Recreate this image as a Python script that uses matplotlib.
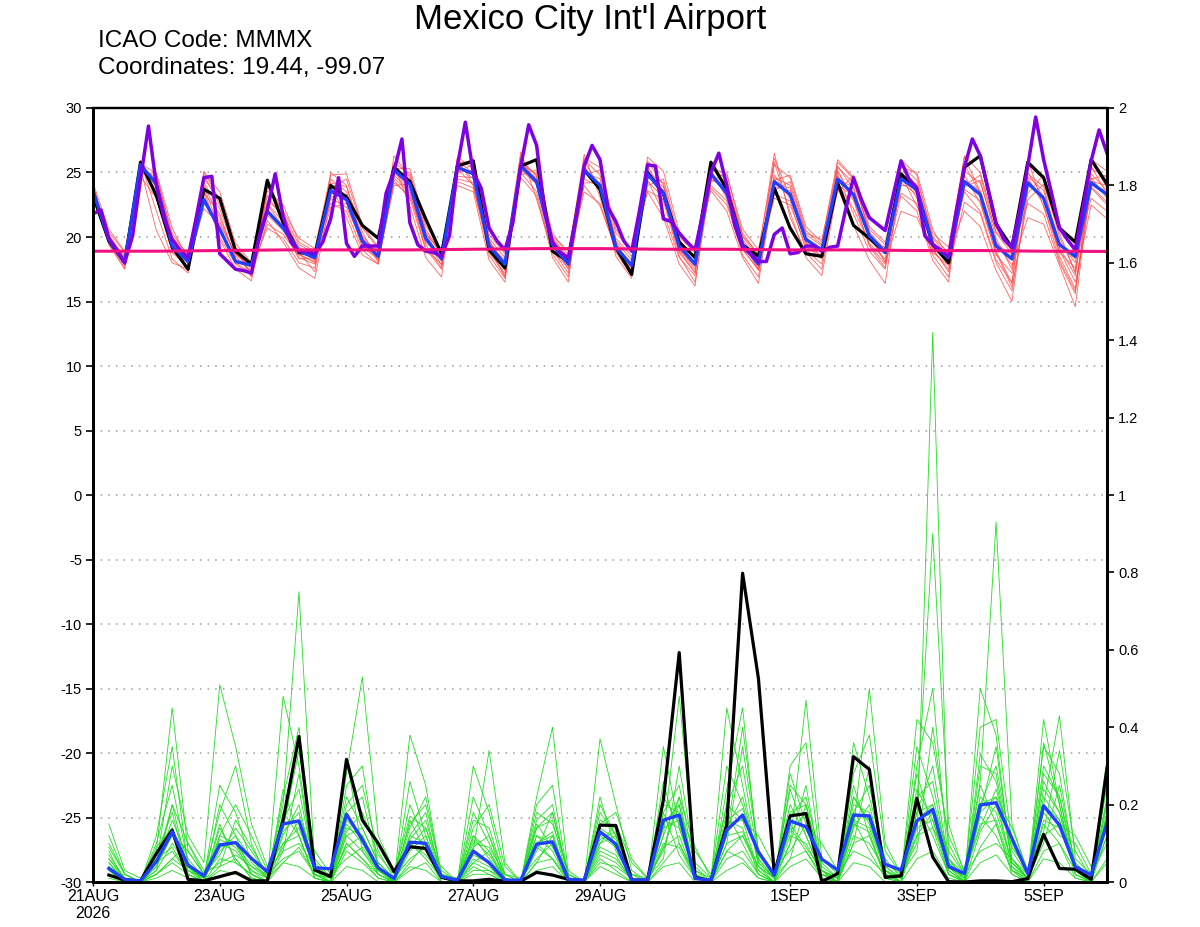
import numpy as np
import matplotlib
matplotlib.use("Agg")
import matplotlib.pyplot as plt

plt.rcParams['font.family'] = ['Liberation Sans', 'DejaVu Sans']

# time axis: days after 21AUG 2026 00Z
tick_days = [0, 2, 4, 6, 8, 11, 13, 15]
tick_labels = ["21AUG\n2026", "23AUG", "25AUG", "27AUG", "29AUG", "1SEP", "3SEP", "5SEP"]

# 6-hourly temperature (deg C), 65 steps
temp_control = [23.2, 19.7, 18.0, 25.8, 23.2, 19.2, 17.5, 23.7, 23.0, 18.9, 17.9, 24.4, 21.1, 18.8, 18.6, 24.0,
                23.1, 20.9, 19.9, 25.4, 24.3, 21.4, 18.7, 25.5, 25.9, 19.0, 17.6, 25.5, 26.0, 18.9, 18.1, 25.2,
                23.7, 19.2, 17.1, 25.0, 23.4, 19.6, 18.4, 25.8, 23.7, 19.4, 18.5, 23.8, 20.7, 18.7, 18.5, 24.2,
                20.9, 19.9, 18.8, 24.9, 23.6, 19.4, 18.0, 25.4, 26.3, 21.0, 19.2, 25.8, 24.6, 20.7, 19.6, 26.0,
                24.1]
temp_mean = [23.6, 19.8, 18.0, 25.6, 24.1, 19.3, 18.1, 22.9, 20.6, 18.1, 17.8, 22.0, 20.7, 18.9, 18.4, 23.6,
             22.9, 19.7, 18.5, 25.2, 24.1, 19.9, 18.3, 25.4, 24.9, 19.3, 17.9, 25.5, 24.3, 19.4, 17.9, 25.2,
             24.0, 19.2, 17.8, 24.9, 23.4, 19.3, 17.9, 24.9, 23.4, 19.4, 17.9, 24.3, 23.3, 19.8, 19.0, 24.5,
             23.3, 20.1, 18.8, 24.5, 23.7, 19.4, 18.4, 24.3, 23.3, 19.3, 18.3, 24.2, 23.0, 19.4, 18.5, 24.2,
             23.3]

# 3-hourly deterministic temperature, 129 steps
temp_det = [21.8, 22.1, 19.9, 19.0, 18.0, 20.1, 24.5, 28.6, 24.0, 21.4, 19.8, 19.0, 18.4, 21.4, 24.6, 24.7,
            18.7, 18.1, 17.5, 17.4, 17.2, 20.1, 22.1, 24.9, 21.6, 19.6, 18.9, 18.9, 18.7, 19.6, 21.4, 24.6,
            19.5, 18.5, 19.3, 19.3, 19.3, 23.4, 25.1, 27.6, 21.1, 19.4, 18.9, 18.8, 18.5, 20.1, 25.5, 28.9,
            25.0, 23.8, 20.7, 19.7, 19.0, 21.1, 25.5, 28.7, 27.1, 22.1, 19.6, 18.8, 18.4, 21.6, 25.5, 27.1,
            26.0, 22.3, 21.2, 19.7, 18.9, 22.1, 25.6, 25.5, 21.4, 21.2, 20.3, 19.6, 19.0, 21.9, 25.0, 26.5,
            24.0, 20.9, 19.2, 18.7, 18.1, 18.1, 20.2, 20.7, 18.7, 18.8, 19.3, 19.3, 18.9, 19.2, 19.3, 22.1,
            24.6, 22.9, 21.5, 21.0, 20.5, 23.2, 25.9, 24.5, 23.8, 20.1, 19.4, 19.0, 18.5, 22.1, 25.4, 27.6,
            26.3, 23.7, 21.1, 19.8, 19.2, 22.1, 25.5, 29.3, 26.0, 23.4, 20.7, 19.8, 19.0, 22.4, 25.9, 28.3,
            26.5]

# daily climatology line
clim_days = list(range(17))
clim_temp = [18.9, 18.9, 18.95, 19.0, 19.0, 19.0, 19.05, 19.1, 19.1, 19.05, 19.05, 19.0, 19.0, 18.95, 18.95, 18.9, 18.88]

# ensemble temperature members (6-hourly, 65 steps)
temp_members = [
    [23.8, 20.2, 18.3, 25.4, 24.5, 19.6, 17.9, 24.0, 21.5, 18.5, 17.3, 21.0, 20.2, 18.6, 18.1, 24.5,
     23.5, 20.1, 18.7, 25.8, 24.8, 20.3, 18.1, 26.2, 25.3, 19.8, 17.4, 26.3, 24.0, 19.0, 17.2, 25.0,
     24.5, 19.7, 18.2, 25.9, 24.0, 19.8, 18.3, 23.8, 22.5, 19.0, 17.5, 25.6, 24.6, 20.5, 19.4, 25.0,
     23.0, 19.3, 17.6, 26.0, 24.8, 19.9, 18.5, 23.5, 22.0, 18.2, 16.5, 25.6, 24.5, 20.0, 17.3, 23.8, 22.5],
    [23.2, 19.5, 17.6, 25.8, 22.0, 18.3, 17.2, 25.0, 23.5, 19.5, 18.0, 22.8, 21.8, 19.4, 18.8, 22.6,
     22.0, 19.0, 17.9, 24.6, 23.4, 19.1, 17.5, 26.1, 24.0, 18.6, 16.8, 24.8, 25.2, 20.3, 18.6, 26.4,
     23.1, 18.8, 17.0, 24.0, 24.5, 20.0, 18.8, 25.7, 24.0, 20.3, 18.6, 23.0, 22.5, 19.3, 18.3, 25.4,
     24.2, 20.6, 19.4, 23.4, 22.6, 18.6, 16.9, 25.1, 24.2, 20.4, 19.0, 22.6, 21.8, 18.0, 15.6, 25.3, 24.6],
    [24.0, 19.9, 18.4, 25.2, 24.7, 20.3, 18.5, 23.7, 19.8, 17.5, 16.6, 22.6, 21.2, 19.0, 18.2, 23.8,
     24.5, 20.7, 19.1, 24.4, 23.0, 19.0, 17.9, 24.7, 24.6, 19.4, 18.2, 25.0, 23.5, 18.7, 16.9, 24.5,
     23.9, 19.2, 17.4, 25.3, 22.8, 18.5, 16.5, 24.3, 25.0, 20.1, 18.7, 26.5, 21.5, 18.8, 17.5, 24.1,
     22.2, 19.5, 18.3, 25.6, 24.4, 20.3, 19.2, 26.2, 23.5, 18.9, 16.4, 24.9, 23.9, 19.2, 17.0, 26.0, 25.1],
    [23.5, 20.4, 18.8, 25.6, 23.5, 19.0, 18.0, 22.2, 21.0, 18.7, 17.6, 20.7, 19.9, 18.0, 17.6, 25.0,
     24.0, 19.5, 18.2, 25.5, 24.4, 20.2, 18.9, 25.1, 25.6, 19.9, 18.4, 26.6, 22.9, 18.9, 17.6, 24.8,
     25.2, 20.3, 19.0, 24.4, 21.9, 18.4, 17.0, 25.8, 23.7, 19.5, 17.5, 23.6, 24.3, 20.3, 19.8, 25.5,
     23.7, 20.1, 18.0, 22.0, 21.5, 18.8, 17.8, 24.0, 24.8, 20.3, 18.7, 26.0, 22.3, 19.0, 16.5, 22.5, 21.4],
    [23.6, 19.7, 17.8, 25.1, 24.2, 19.3, 18.3, 23.3, 20.0, 17.9, 17.0, 23.6, 22.5, 19.6, 18.9, 24.0,
     21.5, 18.6, 17.9, 24.9, 25.0, 20.6, 18.7, 24.3, 23.8, 19.3, 17.7, 25.9, 24.8, 19.9, 18.3, 23.5,
     22.6, 18.9, 17.1, 24.6, 23.9, 19.4, 17.8, 24.0, 22.8, 18.6, 16.9, 24.8, 23.0, 19.9, 18.8, 23.5,
     24.8, 20.8, 19.6, 25.0, 23.0, 19.0, 17.5, 22.7, 21.8, 18.0, 15.8, 23.4, 24.8, 20.6, 18.8, 26.0, 23.8],
    [23.9, 20.0, 18.1, 24.9, 25.0, 20.7, 18.2, 23.4, 21.8, 18.3, 17.4, 22.5, 20.8, 18.7, 18.0, 22.3,
     22.6, 19.3, 18.6, 25.0, 23.8, 19.6, 18.4, 25.6, 24.5, 19.0, 17.0, 25.2, 24.1, 19.6, 18.0, 26.0,
     24.8, 19.9, 18.5, 23.6, 22.9, 18.9, 17.3, 24.4, 23.9, 20.0, 18.5, 23.9, 23.6, 20.0, 18.9, 24.8,
     21.8, 18.9, 17.5, 24.0, 23.9, 19.6, 18.6, 26.3, 25.0, 20.7, 18.9, 24.7, 23.6, 19.6, 18.0, 24.9, 23.6],
    [23.3, 19.6, 17.9, 25.3, 20.5, 18.0, 17.5, 24.5, 23.0, 19.2, 17.9, 23.2, 21.4, 19.2, 18.6, 23.4,
     23.0, 19.8, 18.4, 26.3, 24.6, 20.4, 18.6, 25.0, 25.2, 19.6, 18.0, 25.4, 24.6, 20.0, 18.4, 25.5,
     23.5, 19.4, 17.9, 25.0, 24.2, 19.6, 18.4, 25.2, 23.0, 19.6, 18.1, 24.6, 24.0, 20.2, 19.3, 24.0,
     23.2, 20.0, 18.7, 24.8, 22.4, 19.5, 18.0, 24.4, 23.6, 19.5, 18.6, 25.0, 23.1, 19.4, 18.3, 23.0, 22.0],
    [23.5, 19.9, 18.2, 25.5, 24.0, 19.1, 17.7, 24.2, 22.2, 18.8, 17.7, 21.7, 20.5, 18.4, 17.9, 23.1,
     23.3, 19.9, 18.8, 24.8, 23.6, 19.4, 17.6, 24.5, 24.2, 18.8, 17.2, 26.0, 24.7, 19.5, 17.5, 24.2,
     24.2, 19.6, 17.6, 24.8, 23.6, 19.0, 17.7, 25.3, 24.5, 19.8, 18.2, 24.1, 23.8, 19.6, 18.5, 25.8,
     24.5, 20.4, 19.0, 24.2, 23.3, 19.3, 18.2, 23.7, 22.8, 18.6, 17.2, 24.4, 22.9, 18.8, 17.6, 24.6, 23.0],
    [24.2, 20.6, 18.9, 24.7, 23.0, 18.8, 17.6, 25.1, 22.8, 19.0, 17.1, 24.0, 22.0, 19.9, 19.1, 24.8,
     24.9, 20.9, 19.2, 25.6, 22.4, 18.4, 16.9, 25.8, 25.8, 20.2, 18.7, 24.6, 23.2, 18.4, 16.5, 26.1,
     25.4, 20.6, 18.9, 23.5, 21.5, 17.9, 16.2, 25.5, 24.8, 20.6, 19.0, 25.8, 21.9, 18.4, 17.0, 23.8,
     20.9, 18.2, 16.4, 24.6, 24.1, 20.0, 18.8, 22.0, 20.8, 17.4, 15.0, 24.0, 23.2, 18.5, 16.0, 24.3, 24.0],
    [23.1, 19.4, 17.5, 25.7, 24.9, 20.0, 18.7, 24.8, 22.5, 19.1, 16.9, 21.3, 19.6, 17.6, 16.8, 23.0,
     22.3, 19.6, 18.9, 25.3, 25.3, 20.9, 19.0, 24.0, 23.5, 18.2, 16.5, 25.7, 24.4, 20.1, 18.9, 25.9,
     23.8, 18.5, 16.8, 26.2, 25.1, 20.4, 19.1, 23.6, 22.0, 18.4, 16.4, 24.4, 24.8, 20.8, 19.6, 26.0,
     24.6, 20.2, 18.1, 23.2, 22.0, 18.2, 16.5, 25.6, 23.4, 19.6, 17.8, 21.5, 21.0, 17.8, 14.6, 24.5, 24.8],
    [23.7, 20.0, 18.5, 25.9, 23.8, 19.8, 18.2, 22.6, 21.2, 18.6, 17.8, 23.9, 21.9, 18.8, 17.3, 24.2,
     23.9, 20.4, 18.0, 24.2, 23.2, 19.8, 18.2, 26.0, 24.9, 19.7, 17.9, 25.6, 24.9, 19.3, 17.8, 24.0,
     22.4, 19.1, 17.6, 25.5, 23.3, 19.1, 17.5, 24.6, 23.5, 19.3, 17.7, 26.1, 23.1, 19.5, 18.4, 24.4,
     23.9, 19.8, 19.2, 25.4, 25.0, 20.6, 18.3, 24.8, 22.6, 18.8, 16.1, 22.9, 24.1, 20.3, 17.2, 25.5, 23.3],
    [23.4, 19.8, 18.0, 25.3, 24.4, 19.9, 17.4, 23.9, 20.6, 18.0, 17.2, 22.0, 20.6, 18.3, 18.4, 23.6,
     22.9, 19.2, 18.3, 24.0, 24.1, 20.0, 17.8, 25.3, 24.0, 19.2, 16.9, 25.3, 24.2, 19.8, 18.1, 25.2,
     24.0, 19.3, 17.3, 24.3, 23.1, 18.8, 17.2, 24.9, 23.2, 19.1, 17.4, 23.3, 22.8, 19.0, 17.9, 25.2,
     22.8, 19.4, 17.9, 24.9, 23.5, 19.1, 17.3, 23.9, 24.4, 19.9, 17.5, 24.6, 22.5, 18.2, 15.8, 23.9, 22.7],
]

# 6-hourly precipitation, steps 1..64
precip_control = [0.018, 0.005, 0.003, 0.074, 0.134, 0.007, 0.003, 0.014,
                  0.025, 0.003, 0.003, 0.160, 0.376, 0.031, 0.014, 0.317,
                  0.160, 0.100, 0.027, 0.091, 0.087, 0.012, 0.003, 0.003,
                  0.007, 0.002, 0.002, 0.025, 0.018, 0.007, 0.003, 0.147,
                  0.146, 0.005, 0.005, 0.212, 0.593, 0.012, 0.003, 0.147,
                  0.798, 0.526, 0.022, 0.171, 0.177, 0.001, 0.022, 0.324,
                  0.291, 0.012, 0.016, 0.216, 0.065, 0.001, 0.000, 0.003,
                  0.003, 0.001, 0.009, 0.123, 0.035, 0.033, 0.007, 0.294]
precip_mean = [0.035, 0.007, 0.003, 0.053, 0.130, 0.044, 0.016, 0.096,
               0.102, 0.061, 0.027, 0.150, 0.158, 0.037, 0.034, 0.175,
               0.109, 0.037, 0.009, 0.103, 0.100, 0.014, 0.005, 0.080,
               0.050, 0.005, 0.005, 0.098, 0.104, 0.007, 0.005, 0.130,
               0.098, 0.005, 0.005, 0.160, 0.173, 0.009, 0.005, 0.134,
               0.173, 0.078, 0.018, 0.158, 0.143, 0.059, 0.031, 0.173,
               0.171, 0.046, 0.031, 0.158, 0.188, 0.040, 0.022, 0.199,
               0.205, 0.113, 0.022, 0.197, 0.147, 0.040, 0.018, 0.152]

precip_members = [
    [.05, .01, .00, .04, .16, .06, .01, .10, .08, .03, .01, .12, .20, .02, .01, .15,
     .10, .03, .00, .08, .12, .01, .00, .06, .04, .00, .00, .10, .13, .00, .00, .12,
     .09, .01, .00, .15, .20, .02, .00, .14, .22, .05, .01, .12, .10, .02, .01, .15,
     .13, .01, .02, .10, 1.42, .06, .00, .13, .20, .05, .01, .15, .10, .03, .01, .12],
    [.12, .02, .00, .08, .45, .08, .02, .18, .30, .10, .01, .20, .75, .04, .01, .22,
     .14, .05, .01, .15, .20, .02, .00, .11, .07, .01, .00, .14, .18, .01, .00, .20,
     .12, .02, .00, .18, .25, .03, .01, .16, .19, .07, .02, .17, .22, .05, .01, .20,
     .18, .04, .01, .16, .20, .08, .02, .26, .93, .15, .02, .30, .22, .05, .01, .18],
    [.02, .00, .00, .05, .30, .12, .05, .51, .35, .15, .04, .10, .14, .03, .02, .28,
     .53, .12, .03, .10, .07, .02, .01, .09, .12, .02, .01, .06, .10, .02, .00, .08,
     .06, .01, .00, .09, .12, .01, .00, .10, .35, .08, .02, .13, .18, .03, .01, .14,
     .50, .10, .02, .24, .16, .04, .01, .17, .12, .03, .01, .20, .43, .06, .02, .10],
    [.08, .00, .00, .03, .10, .04, .00, .06, .05, .02, .00, .48, .30, .02, .00, .10,
     .06, .02, .00, .38, .25, .01, .00, .08, .34, .05, .00, .05, .06, .00, .00, .06,
     .03, .00, .00, .12, .48, .04, .00, .45, .25, .04, .01, .10, .47, .06, .02, .08,
     .06, .02, .01, .42, .36, .12, .03, .20, .30, .08, .02, .26, .18, .04, .01, .25],
    [.15, .03, .01, .05, .08, .02, .00, .20, .12, .06, .01, .18, .12, .01, .00, .08,
     .05, .01, .00, .12, .18, .00, .00, .30, .18, .02, .00, .22, .40, .02, .00, .37,
     .20, .03, .00, .10, .09, .01, .00, .08, .12, .03, .00, .30, .36, .03, .00, .10,
     .12, .01, .00, .18, .30, .05, .01, .40, .42, .10, .02, .35, .28, .03, .00, .30],
    [.04, .01, .00, .02, .06, .10, .03, .04, .16, .09, .02, .06, .08, .02, .00, .20,
     .25, .08, .01, .06, .09, .04, .00, .05, .03, .01, .00, .18, .15, .03, .00, .10,
     .15, .05, .01, .20, .18, .08, .02, .20, .16, .12, .04, .08, .15, .10, .03, .18,
     .25, .05, .02, .12, .14, .06, .02, .08, .10, .06, .02, .12, .15, .12, .04, .16],
    [.03, .00, .00, .01, .03, .01, .00, .03, .02, .01, .00, .05, .04, .01, .00, .04,
     .03, .00, .00, .03, .05, .00, .00, .02, .02, .00, .00, .03, .04, .00, .00, .04,
     .02, .00, .00, .04, .05, .00, .00, .03, .05, .01, .00, .04, .06, .01, .00, .05,
     .04, .00, .00, .06, .08, .01, .00, .05, .07, .02, .00, .06, .05, .01, .00, .05],
    [.06, .01, .00, .06, .12, .03, .01, .09, .10, .04, .02, .14, .34, .06, .01, .13,
     .18, .07, .02, .17, .14, .03, .00, .12, .06, .01, .00, .15, .09, .01, .00, .14,
     .11, .02, .01, .06, .30, .05, .01, .12, .40, .08, .02, .20, .12, .02, .00, .36,
     .22, .06, .01, .20, .90, .15, .02, .14, .24, .09, .03, .13, .34, .08, .01, .21],
    [.02, .00, .00, .10, .25, .05, .00, .12, .20, .12, .03, .08, .10, .04, .01, .32,
     .08, .03, .00, .10, .06, .01, .00, .18, .10, .01, .00, .08, .18, .02, .00, .05,
     .04, .01, .00, .35, .14, .02, .00, .18, .10, .02, .00, .06, .08, .02, .00, .12,
     .10, .03, .01, .28, .14, .02, .00, .33, .26, .06, .01, .42, .20, .02, .00, .15],
    [.10, .02, .00, .03, .20, .10, .02, .07, .14, .08, .02, .09, .16, .08, .02, .06,
     .09, .03, .01, .20, .10, .02, .00, .14, .20, .04, .00, .10, .06, .01, .00, .15,
     .18, .06, .01, .08, .22, .09, .01, .30, .20, .06, .01, .15, .09, .03, .01, .22,
     .15, .04, .01, .35, .22, .06, .01, .18, .22, .14, .03, .18, .12, .10, .02, .14],
    [.00, .00, .00, .02, .05, .02, .00, .15, .05, .02, .00, .24, .12, .01, .00, .16,
     .12, .02, .00, .04, .03, .00, .00, .04, .02, .00, .00, .05, .12, .01, .00, .22,
     .08, .01, .00, .26, .10, .02, .00, .08, .06, .01, .00, .25, .20, .04, .01, .28,
     .38, .08, .02, .08, .40, .10, .02, .15, .16, .04, .01, .10, .25, .04, .01, .32],
    [.07, .01, .00, .09, .14, .04, .00, .11, .09, .03, .00, .13, .18, .04, .01, .12,
     .14, .05, .01, .11, .16, .02, .00, .10, .09, .02, .00, .12, .10, .01, .00, .13,
     .10, .02, .00, .14, .16, .03, .00, .12, .13, .04, .01, .16, .14, .03, .00, .16,
     .14, .03, .01, .18, .20, .05, .01, .22, .18, .05, .01, .16, .14, .03, .00, .17],
    [.04, .01, .00, .12, .35, .04, .01, .08, .12, .02, .00, .16, .24, .03, .00, .18,
     .22, .04, .00, .09, .14, .01, .00, .07, .05, .00, .00, .16, .20, .01, .00, .09,
     .07, .00, .00, .12, .22, .01, .00, .20, .30, .06, .01, .24, .12, .02, .00, .14,
     .20, .03, .00, .22, .26, .04, .00, .18, .35, .05, .01, .24, .18, .02, .00, .20],
    [.01, .00, .00, .06, .09, .02, .00, .04, .06, .01, .00, .08, .28, .02, .00, .25,
     .30, .04, .00, .05, .10, .01, .00, .05, .08, .00, .00, .09, .06, .00, .00, .18,
     .12, .01, .00, .05, .10, .01, .00, .24, .45, .05, .01, .06, .20, .01, .00, .10,
     .30, .02, .00, .14, .16, .02, .00, .50, .38, .03, .00, .08, .10, .01, .00, .06],
    [.09, .02, .00, .02, .06, .03, .01, .25, .18, .05, .01, .05, .09, .02, .00, .12,
     .08, .02, .00, .26, .12, .01, .00, .03, .03, .00, .00, .20, .25, .01, .00, .07,
     .05, .01, .00, .18, .07, .01, .00, .06, .08, .02, .00, .28, .15, .03, .00, .25,
     .12, .02, .00, .30, .50, .04, .00, .09, .15, .02, .00, .28, .22, .03, .00, .12],
    [.03, .00, .00, .04, .12, .08, .02, .05, .07, .04, .01, .22, .40, .05, .01, .09,
     .12, .04, .00, .14, .22, .02, .00, .16, .14, .01, .00, .12, .08, .00, .00, .11,
     .13, .01, .00, .22, .15, .02, .00, .10, .12, .04, .00, .10, .25, .02, .00, .22,
     .16, .03, .00, .12, .18, .03, .00, .30, .28, .06, .01, .22, .16, .04, .00, .22],
    [.06, .01, .00, .05, .20, .03, .00, .14, .06, .01, .00, .10, .12, .01, .00, .10,
     .06, .01, .00, .16, .08, .00, .00, .22, .12, .00, .00, .14, .16, .00, .00, .16,
     .14, .00, .00, .09, .20, .01, .00, .16, .14, .02, .00, .14, .08, .01, .00, .16,
     .08, .01, .00, .20, .12, .02, .00, .25, .15, .03, .00, .36, .20, .02, .00, .26],
    [.05, .00, .00, .07, .18, .02, .00, .12, .10, .02, .00, .15, .16, .02, .00, .14,
     .12, .02, .00, .12, .10, .01, .00, .12, .08, .01, .00, .10, .12, .01, .00, .10,
     .12, .01, .00, .16, .14, .02, .00, .15, .16, .03, .00, .18, .20, .03, .00, .18,
     .16, .02, .00, .16, .18, .03, .00, .20, .22, .04, .00, .20, .16, .03, .00, .18],
]

t6 = np.arange(len(temp_mean)) * 0.25
t3 = np.arange(len(temp_det)) * 0.125
tp = np.arange(1, len(precip_mean) + 1) * 0.25

fig = plt.figure(figsize=(12, 9.27), dpi=100)
ax = fig.add_axes([0.0775, 0.0485, 0.845, 0.835])
ax2 = ax.twinx()

for m in temp_members:
    ax.plot(t6, m, color='#ff4a4a', lw=0.6, alpha=0.85)
ax.plot(t6, temp_control, color='black', lw=2.3)
ax.plot(t6, temp_mean, color='#2040ff', lw=2.4)
ax.plot(t3, temp_det, color='#7f00e0', lw=2.5)
ax.plot(clim_days, clim_temp, color='#f0107f', lw=2.2)

for m in precip_members:
    ax2.plot(tp, m, color='#22dd22', lw=0.6)
ax2.plot(tp, precip_control, color='black', lw=2.3)
ax2.plot(tp, precip_mean, color='#2040ff', lw=2.4)

ax.set_xlim(0, 16)
ax.set_ylim(-30, 30)
ax2.set_ylim(0, 2)

ax.set_yticks(np.arange(-30, 31, 5))
ax.set_yticklabels([str(v) for v in range(-30, 31, 5)])
ax2.set_yticks(np.arange(0, 2.01, 0.2))
ax2.set_yticklabels(['0', '0.2', '0.4', '0.6', '0.8', '1', '1.2', '1.4', '1.6', '1.8', '2'])
ax.set_xticks(tick_days)
ax.set_xticklabels(tick_labels)

ax.yaxis.grid(True, linestyle=(0, (1, 4)), color='#9a9a9a', lw=1.1)
ax.tick_params(axis='y', direction='out', length=5, width=1.2, labelsize=10.5, pad=3)
ax.tick_params(axis='x', direction='out', length=3, width=1.0, labelsize=11.5, pad=2)
ax2.tick_params(axis='y', direction='out', length=5, width=1.2, labelsize=10.5, pad=3)

for a in (ax, ax2):
    for s in a.spines.values():
        s.set_linewidth(2.0)
    a.spines['top'].set_linewidth(1.6)

fig.text(0.4917, 1 - 20 / 927, "Mexico City Int'l Airport", ha='center', va='center', fontsize=25)
fig.text(0.0815, 1 - 41 / 927, "ICAO Code: MMMX", ha='left', va='center', fontsize=17.5)
fig.text(0.0815, 1 - 68 / 927, "Coordinates: 19.44, -99.07", ha='left', va='center', fontsize=17.5)

fig.savefig("out.png", dpi=100)
